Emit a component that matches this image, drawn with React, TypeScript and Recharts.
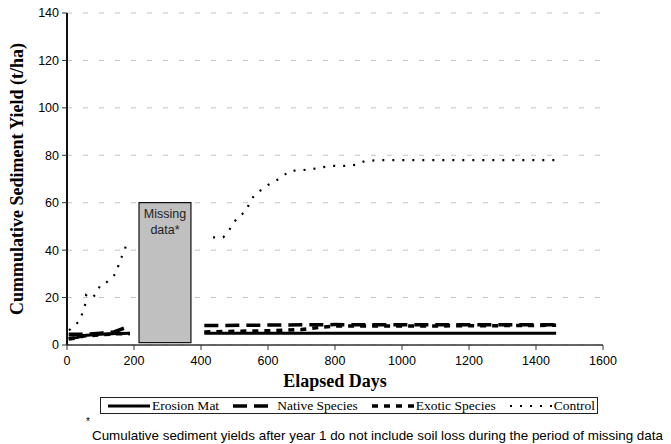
import { LineChart, Line, XAxis, YAxis, CartesianGrid, ReferenceArea, Legend } from "recharts";

// Days since start and cumulative yield (t/ha); null = missing-data gap
const erosionDays = [5, 30, 50, 100, 150, 188, 300, 410, 600, 800, 1000, 1200, 1460];
const erosionYield = [3, 3.2, 4, 4.5, 4.8, 5, null, 5, 5, 5, 5, 5, 5];

const nativeDays = [5, 50, 100, 140, 188, 300, 410, 600, 800, 1000, 1200, 1460];
const nativeYield = [4.5, 4.5, 5, 5.5, 8, null, 8.2, 8.4, 8.6, 8.5, 8.5, 8.5];

const exoticDays = [5, 30, 50, 100, 150, 188, 300, 410, 500, 600, 700, 760, 800, 1000, 1200, 1460];
const exoticYield = [2.5, 3, 3.8, 4.3, 4.7, 4.8, null, 5.5, 5.8, 6, 6.5, 7.5, 8, 8, 8.1, 8.3];

const controlDays = [6, 24, 39, 54, 57, 71, 86, 100, 115, 130, 145, 161, 173, 176, 300, 436, 466, 480, 495, 510, 531, 546, 558, 576, 600, 621, 666, 725, 785, 830, 863, 890, 937, 1000, 1100, 1200, 1300, 1400, 1460];
const controlYield = [6.2, 8.3, 10.5, 17, 21, 19.6, 21.3, 25.4, 26, 28, 30, 36.6, 39.5, 43.4, null, 45.4, 45.4, 47.5, 51, 54, 56, 60, 63, 65, 67.5, 69, 73.4, 74, 75.5, 75.5, 76, 77.6, 78, 78, 78, 78, 78, 78, 78];

const xTicks = [0, 200, 400, 600, 800, 1000, 1200, 1400, 1600];
const yTicks = [0, 20, 40, 60, 80, 100, 120, 140];

// period with no measurements
const missingStart = 215;
const missingEnd = 370;
const missingTop = 60;
const missingBottom = 1;

const toRows = (days: number[], vals: (number | null)[]) => days.map((d, i) => ({ day: d, y: vals[i] }));

const series = [
  { name: "Erosion Mat", data: toRows(erosionDays, erosionYield), dash: undefined, width: 3 },
  { name: "Native Species", data: toRows(nativeDays, nativeYield), dash: "14 7", width: 3.5 },
  { name: "Exotic Species", data: toRows(exoticDays, exoticYield), dash: "6 6", width: 3.5 },
  { name: "Control", data: toRows(controlDays, controlYield), dash: "2 8", width: 2.2 },
];

const sans = "Arial, 'Liberation Sans', sans-serif";
const serif = "'Liberation Serif', 'Times New Roman', serif";
const tickStyle = { fontFamily: sans, fontSize: 12.5, fill: "#000" };

function MissingLabel(props: any) {
  const vb = props.viewBox || {};
  const cx = vb.x + vb.width / 2;
  return (
    <text textAnchor="middle" fontFamily={sans} fontSize={12.5} fill="#222">
      <tspan x={cx} y={vb.y + 15}>Missing</tspan>
      <tspan x={cx} y={vb.y + 31}>data*</tspan>
    </text>
  );
}

function YLabel(props: any) {
  const vb = props.viewBox || {};
  const x = vb.x + 17;
  const y = vb.y + vb.height / 2;
  return (
    <text x={x} y={y} transform={`rotate(-90 ${x} ${y})`} textAnchor="middle" dominantBaseline="central"
      fontFamily={serif} fontWeight="bold" fontSize={18} fill="#000">
      Cummulative Sediment Yield (t/ha)
    </text>
  );
}

function Sample({ dash, width }: { dash?: string; width: number }) {
  return (
    <svg width={44} height={10} style={{ display: "block" }}>
      <line x1={1} y1={5} x2={43} y2={5} stroke="#000" strokeWidth={width} strokeDasharray={dash} />
    </svg>
  );
}

function LegendBox() {
  return (
    <div style={{ display: "flex", justifyContent: "space-between", alignItems: "center", height: 17, border: "1px solid #222", fontFamily: serif, fontSize: 13.5, color: "#000", padding: "0 2px 0 6px", boxSizing: "border-box", width: 498, whiteSpace: "nowrap" }}>
      {series.map((s) => (
        <div key={s.name} style={{ display: "flex", alignItems: "center" }}>
          <Sample dash={s.dash} width={s.width} />
          <span style={{ marginLeft: 1 }}>{s.name}</span>
        </div>
      ))}
    </div>
  );
}

export default function App() {
  return (
    <div style={{ position: "absolute", left: 0, top: 0, width: 671, height: 444, background: "#fff" }}>
      <LineChart width={671} height={444} margin={{ top: 13, right: 68, bottom: 40, left: 0 }}>
        <CartesianGrid vertical={false} stroke="#c4c4c4" strokeDasharray="5 11" />
        <XAxis dataKey="day" type="number" domain={[0, 1600]} ticks={xTicks} allowDuplicatedCategory={false}
          tick={tickStyle} tickLine={{ stroke: "#333" }} axisLine={{ stroke: "#333", strokeWidth: 1.5 }}
          tickSize={5} tickMargin={6} height={42}
          label={{ value: "Elapsed Days", position: "insideBottom", offset: 0, style: { fontFamily: serif, fontWeight: "bold", fontSize: 18, fill: "#000" } }} />
        <XAxis xAxisId="top" orientation="top" type="number" domain={[0, 1600]} tick={false} tickLine={false}
          axisLine={{ stroke: "#333", strokeWidth: 1.5 }} height={0} />
        <YAxis type="number" domain={[0, 140]} ticks={yTicks} tick={tickStyle} tickLine={{ stroke: "#333" }}
          axisLine={{ stroke: "#111", strokeWidth: 2 }} tickSize={5} tickMargin={3} width={67}
          label={<YLabel />} />
        <YAxis yAxisId="right" orientation="right" type="number" domain={[0, 140]} tick={false} tickLine={false}
          axisLine={{ stroke: "#333", strokeWidth: 1.5 }} width={0} />
        <ReferenceArea x1={missingStart} x2={missingEnd} y1={missingBottom} y2={missingTop}
          fill="#c0c0c0" fillOpacity={1} stroke="#111" strokeWidth={1.2} label={<MissingLabel />} />
        {series.map((s) => (
          <Line key={s.name} data={s.data} dataKey="y" name={s.name} type="linear" stroke="#000"
            strokeWidth={s.width} strokeDasharray={s.dash} dot={false} connectNulls={false}
            isAnimationActive={false} />
        ))}
        <Legend content={() => <LegendBox />} wrapperStyle={{ position: "absolute", left: 100, top: 397, width: 498, height: 17 }} />
      </LineChart>
      <div style={{ position: "absolute", left: 86, top: 416, fontFamily: sans, fontSize: 10, color: "#000" }}>*</div>
      <div style={{ position: "absolute", left: 92, top: 428, fontFamily: sans, fontSize: 13.4, color: "#000", whiteSpace: "nowrap" }}>
        Cumulative sediment yields after year 1 do not include soil loss during the period of missing data
      </div>
    </div>
  );
}
